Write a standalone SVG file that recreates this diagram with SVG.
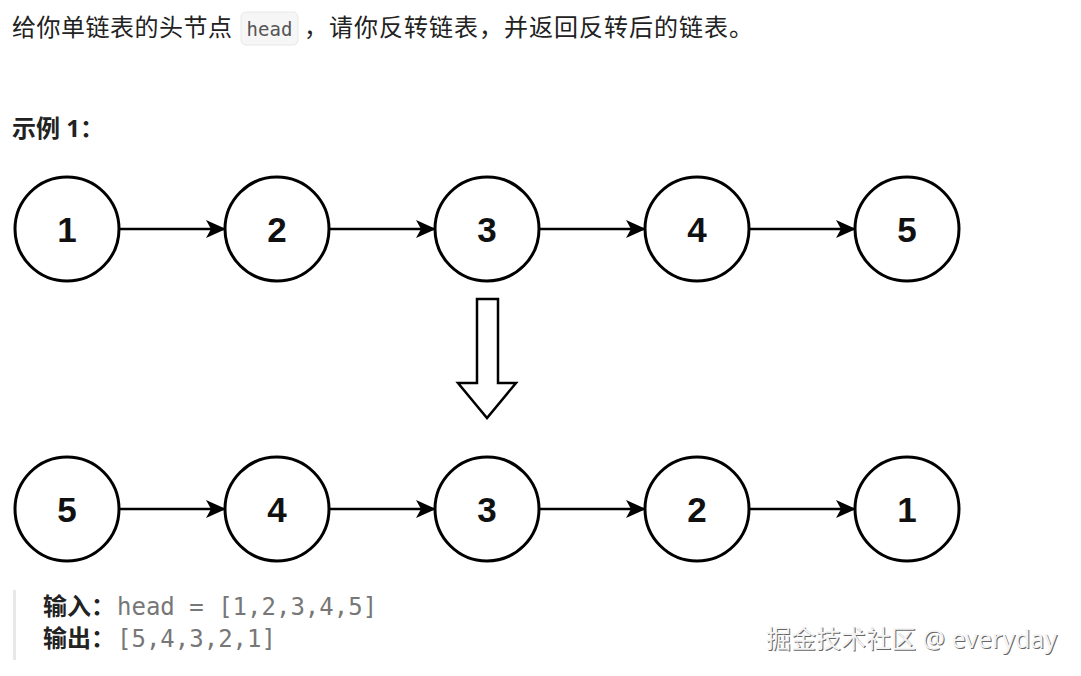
<svg xmlns="http://www.w3.org/2000/svg" width="1081" height="676" viewBox="0 0 1081 676">
<style>
.c{fill:#fff;stroke:#000;stroke-width:3}
.n{font-family:"Liberation Sans",Arial,sans-serif;font-weight:bold;font-size:35px;text-anchor:middle;fill:#111}
.e{stroke:#000;stroke-width:2.5;fill:none;marker-end:url(#ah)}
.t{font-family:"Noto Sans","Noto Sans CJK SC",sans-serif;font-size:24px;fill:#222}
.b{font-family:"Noto Sans","Noto Sans CJK SC",sans-serif;font-size:24px;font-weight:bold;fill:#222}
.m{font-family:"DejaVu Sans Mono","Liberation Mono",monospace;font-size:24px;fill:#777}
.w{font-family:"Noto Sans","Noto Sans CJK SC",sans-serif;font-size:25px}
</style>
<defs>
<marker id="ah" markerWidth="20" markerHeight="18" refX="19" refY="9" orient="auto" markerUnits="userSpaceOnUse">
<path d="M0,0 L20,9 L0,18 L5,9 Z" fill="#000"/>
</marker>
</defs>
<rect width="1081" height="676" fill="#fff"/>
<g id="title">
<text class="t" x="12" y="36" letter-spacing="0.5">给你单链表的头节点</text>
<rect x="241" y="12" width="57" height="33" rx="5" fill="#f6f6f6" stroke="#e8e8e8"/>
<text x="269.5" y="36" font-family="DejaVu Sans Mono,monospace" font-size="19" fill="#555" text-anchor="middle">head</text>
<text class="t" x="304" y="36" letter-spacing="1">，请你反转链表，并返回反转后的链表。</text>
</g>
<text class="b" x="12" y="137">示例 1：</text>
<g id="connectors">
<line class="e" x1="120" y1="229" x2="225" y2="229"/>
<line class="e" x1="330" y1="229" x2="435" y2="229"/>
<line class="e" x1="540" y1="229" x2="645" y2="229"/>
<line class="e" x1="750" y1="229" x2="855" y2="229"/>
<line class="e" x1="120" y1="509" x2="225" y2="509"/>
<line class="e" x1="330" y1="509" x2="435" y2="509"/>
<line class="e" x1="540" y1="509" x2="645" y2="509"/>
<line class="e" x1="750" y1="509" x2="855" y2="509"/>
</g>
<g id="n1"><circle class="c" cx="67" cy="229" r="52"/><text class="n" x="67" y="242">1</text></g>
<g id="n2"><circle class="c" cx="277" cy="229" r="52"/><text class="n" x="277" y="242">2</text></g>
<g id="n3"><circle class="c" cx="487" cy="229" r="52"/><text class="n" x="487" y="242">3</text></g>
<g id="n4"><circle class="c" cx="697" cy="229" r="52"/><text class="n" x="697" y="242">4</text></g>
<g id="n5"><circle class="c" cx="907" cy="229" r="52"/><text class="n" x="907" y="242">5</text></g>
<g id="big-arrow"><path d="M477,299 L498,299 L498,383 L516,383 L487,418 L458,383 L477,383 Z" fill="#fff" stroke="#000" stroke-width="2.5" stroke-linejoin="miter"/></g>
<g id="m5"><circle class="c" cx="67" cy="509" r="52"/><text class="n" x="67" y="522">5</text></g>
<g id="m4"><circle class="c" cx="277" cy="509" r="52"/><text class="n" x="277" y="522">4</text></g>
<g id="m3"><circle class="c" cx="487" cy="509" r="52"/><text class="n" x="487" y="522">3</text></g>
<g id="m2"><circle class="c" cx="697" cy="509" r="52"/><text class="n" x="697" y="522">2</text></g>
<g id="m1"><circle class="c" cx="907" cy="509" r="52"/><text class="n" x="907" y="522">1</text></g>
<g id="io">
<rect x="13" y="590" width="3" height="70" fill="#e8e8e8"/>
<text class="b" x="43" y="615">输入：</text>
<text class="m" x="117" y="615">head = [1,2,3,4,5]</text>
<text class="b" x="43" y="647">输出：</text>
<text class="m" x="117" y="647">[5,4,3,2,1]</text>
</g>
<g id="watermark">
<text class="w" x="767" y="649" fill="#666">掘金技术社区 @ everyday</text>
<text class="w" x="766" y="648" fill="#f4f4f4">掘金技术社区 @ everyday</text>
</g>
</svg>
